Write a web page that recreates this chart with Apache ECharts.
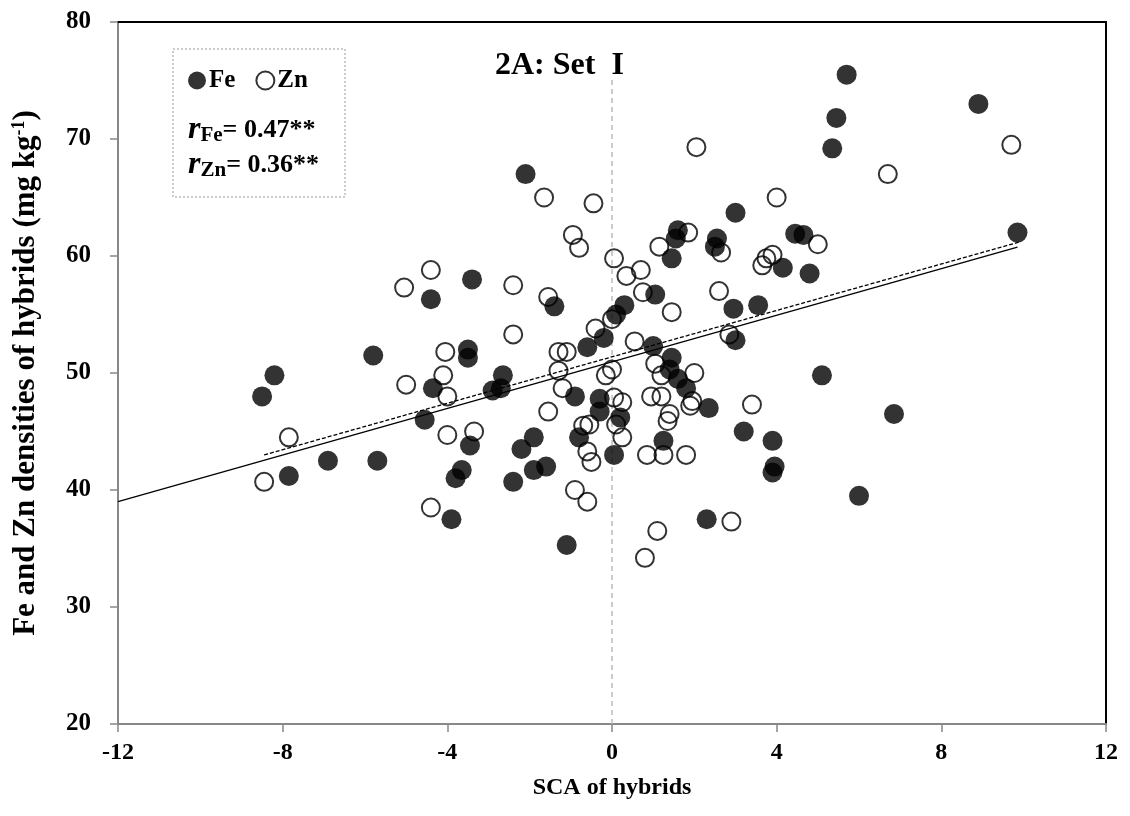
<!DOCTYPE html>
<html>
<head>
<meta charset="utf-8">
<script src="https://cdn.jsdelivr.net/npm/echarts@6/dist/echarts.min.js"></script>
<style>
  html, body { margin: 0; padding: 0; background: #fff; }
  #main { width: 1130px; height: 816px; }
</style>
</head>
<body>
<div id="main"></div>
<script>
// Fe points [SCA, density]
var feData = [
  [-8.5, 48.0], [-8.2, 49.8], [-7.85, 41.2], [-6.9, 42.5], [-5.7, 42.5], [-5.8, 51.5],
  [-4.4, 56.3], [-4.35, 48.7], [-4.55, 46.0], [-3.9, 37.5], [-3.8, 41.0], [-3.65, 41.7],
  [-3.45, 43.8], [-3.5, 52.0], [-3.5, 51.3], [-3.4, 58.0],
  [-2.65, 49.8], [-2.9, 48.5], [-2.7, 48.7], [-2.4, 40.7], [-2.2, 43.5], [-1.9, 44.5],
  [-1.9, 41.7], [-1.6, 42.0], [-2.1, 67.0], [-1.4, 55.7], [-0.9, 48.0], [-0.6, 52.2],
  [-0.2, 53.0], [-0.3, 47.8], [-0.3, 46.7], [0.2, 46.2], [-0.8, 44.5], [0.05, 43.0],
  [-1.1, 35.3], [0.3, 55.8], [0.1, 55.0], [1.05, 56.7], [1.0, 52.3], [1.45, 51.3],
  [1.4, 50.3], [1.6, 49.5], [1.8, 48.7], [1.25, 44.2], [2.35, 47.0], [2.3, 37.5],
  [3.2, 45.0], [3.9, 44.2], [3.95, 42.0], [3.9, 41.5], [6.0, 39.5], [6.85, 46.5],
  [5.1, 49.8], [1.45, 59.8], [1.6, 62.2], [1.55, 61.5], [3.0, 63.7], [2.55, 61.5],
  [2.5, 60.8], [3.0, 52.8], [2.95, 55.5], [3.55, 55.8], [4.15, 59.0], [4.8, 58.5],
  [4.45, 61.9], [4.65, 61.8], [5.35, 69.2], [5.45, 71.8], [5.7, 75.5], [8.9, 73.0],
  [9.85, 62.0]
];

// Zn points [SCA, density]
var znData = [
  [-8.45, 40.7], [-7.85, 44.5], [-5.05, 57.3], [-4.4, 58.8], [-5.0, 49.0], [-4.1, 49.8],
  [-4.0, 48.0], [-4.05, 51.8], [-4.0, 44.7], [-4.4, 38.5], [-3.35, 45.0], [-2.4, 57.5],
  [-2.4, 53.3], [-1.65, 65.0], [-1.55, 56.5], [-1.55, 46.7], [-1.3, 50.2], [-1.2, 48.7],
  [-1.3, 51.8], [-1.1, 51.8], [-0.95, 61.8], [-0.8, 60.7], [-0.45, 64.5], [-0.4, 53.8],
  [-0.15, 49.8], [0.0, 50.3], [0.0, 54.6], [0.05, 59.8], [0.05, 47.9], [0.25, 47.5],
  [0.1, 45.6], [0.25, 44.5], [-0.7, 45.5], [-0.55, 45.6], [-0.6, 43.3], [-0.5, 42.4],
  [-0.9, 40.0], [-0.6, 39.0], [0.8, 34.2], [1.1, 36.5], [0.85, 43.0], [1.25, 43.0],
  [1.8, 43.0], [1.4, 46.5], [1.35, 45.9], [0.95, 48.0], [1.2, 48.0], [1.95, 47.6],
  [1.9, 47.2], [1.05, 50.8], [1.2, 49.8], [2.0, 50.0], [0.55, 52.7], [0.75, 56.9],
  [1.45, 55.2], [2.6, 57.0], [2.85, 53.3], [3.4, 47.3], [2.9, 37.3], [0.35, 58.3],
  [0.7, 58.8], [1.15, 60.8], [1.85, 62.0], [2.05, 69.3], [2.65, 60.3], [3.65, 59.2],
  [3.75, 59.8], [3.9, 60.1], [4.0, 65.0], [5.0, 61.0], [6.7, 67.0], [9.7, 69.5]
];

// trend lines (end points)
var trendSolid = [[-12, 39.0], [9.85, 60.75]];
var trendDashed = [[-8.45, 43.0], [9.9, 61.2]];
var zeroLine = [[0, 20], [0, 75.3]];

var xTicks = { min: -12, max: 12, step: 4 };
var yTicks = { min: 20, max: 80, step: 10 };

var FONT = 'Liberation Serif';
var chart = echarts.init(document.getElementById('main'));

var rRich = {
  i: { fontFamily: FONT, fontSize: 32, fontStyle: 'italic', fontWeight: 'bold', fill: '#000' },
  s: { fontFamily: FONT, fontSize: 21, fontWeight: 'bold', fill: '#000', padding: [12, 0, 0, 0] },
  b: { fontFamily: FONT, fontSize: 26, fontWeight: 'bold', fill: '#000' }
};

var option = {
  animation: false,
  title: {
    text: '2A: Set  I',
    left: 490,
    top: 45,
    textStyle: { fontFamily: FONT, fontSize: 32, fontWeight: 'bold', color: '#000' }
  },
  legend: {
    left: 183,
    top: 63,
    itemWidth: 18,
    itemHeight: 18,
    itemGap: 20,
    icon: 'circle',
    data: ['Fe', 'Zn'],
    textStyle: { fontFamily: FONT, fontSize: 25, fontWeight: 'bold', color: '#000', padding: [0, 0, 0, -2] }
  },
  grid: { left: 118, right: 24, top: 22, bottom: 92 },
  xAxis: [{
    type: 'value',
    min: xTicks.min, max: xTicks.max, interval: xTicks.step,
    name: 'SCA of hybrids',
    nameLocation: 'middle',
    nameGap: 52,
    nameTextStyle: { fontFamily: FONT, fontSize: 24, fontWeight: 'bold', color: '#000' },
    axisLine: { lineStyle: { color: '#888', width: 2 } },
    axisTick: { inside: false, length: 8, lineStyle: { color: '#888', width: 1.5 } },
    axisLabel: { margin: 17, fontFamily: FONT, fontSize: 24, fontWeight: 'bold', color: '#000' },
    splitLine: { show: false }
  }, {
    type: 'value', position: 'top',
    min: xTicks.min, max: xTicks.max, interval: xTicks.step,
    axisLine: { onZero: false, lineStyle: { color: '#000', width: 2 } },
    axisTick: { show: false }, axisLabel: { show: false }, splitLine: { show: false }
  }],
  yAxis: [{
    type: 'value',
    min: yTicks.min, max: yTicks.max, interval: yTicks.step,
    name: 'Fe and Zn densities of hybrids (mg kg{sup|-1})',
    nameLocation: 'middle',
    nameGap: 76,
    nameTextStyle: {
      fontFamily: FONT, fontSize: 31, fontWeight: 'bold', color: '#000',
      rich: {
        sup: { fontFamily: FONT, fontSize: 18, fontWeight: 'bold', color: '#000', verticalAlign: 'top', padding: [0, 0, 14, 0] }
      }
    },
    axisLine: { onZero: false, lineStyle: { color: '#888', width: 2 } },
    axisTick: { inside: false, length: 8, lineStyle: { color: '#888', width: 1.5 } },
    axisLabel: { margin: 27, fontFamily: FONT, fontSize: 25, fontWeight: 'bold', color: '#000' },
    splitLine: { show: false }
  }, {
    type: 'value', position: 'right',
    min: yTicks.min, max: yTicks.max, interval: yTicks.step,
    axisLine: { show: true, onZero: false, lineStyle: { color: '#000', width: 2 } },
    axisTick: { show: false }, axisLabel: { show: false }, splitLine: { show: false }
  }],
  graphic: [
    {
      type: 'rect', z: 1,
      shape: { x: 173, y: 49, width: 172, height: 148 },
      style: { fill: 'rgba(0,0,0,0)', stroke: '#999', lineWidth: 1, lineDash: [2, 2] }
    },
    {
      type: 'text', z: 5, left: 188, top: 114,
      style: { text: '{i|r}{s|Fe}{b|= 0.47**}', rich: rRich }
    },
    {
      type: 'text', z: 5, left: 188, top: 149,
      style: { text: '{i|r}{s|Zn}{b|= 0.36**}', rich: rRich }
    }
  ],
  series: [
    {
      name: 'zero', type: 'line', data: zeroLine, symbol: 'none', silent: true, z: 1,
      lineStyle: { color: '#bbb', width: 1.5, type: [5, 4] }
    },
    {
      name: 'trendSolid', type: 'line', data: trendSolid, symbol: 'none', silent: true, z: 2,
      lineStyle: { color: '#000', width: 1.3 }
    },
    {
      name: 'trendDashed', type: 'line', data: trendDashed, symbol: 'none', silent: true, z: 2,
      lineStyle: { color: '#000', width: 1.3, type: [4, 2] }
    },
    {
      name: 'Zn', type: 'scatter', data: znData, symbol: 'circle', symbolSize: 18, z: 3,
      itemStyle: { color: 'rgba(0,0,0,0)', borderColor: '#000', borderWidth: 2 }
    },
    {
      name: 'Fe', type: 'scatter', data: feData, symbol: 'circle', symbolSize: 20, z: 4,
      itemStyle: { color: '#000' }
    }
  ]
};

chart.setOption(option);
</script>
</body>
</html>
